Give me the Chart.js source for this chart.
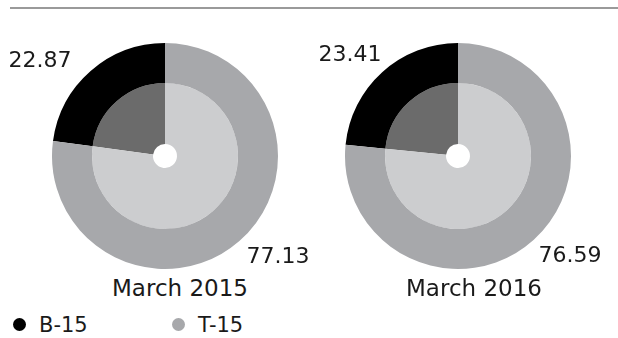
<!DOCTYPE html>
<html>
<head>
<meta charset="utf-8">
<script src="https://cdn.jsdelivr.net/npm/chart.js@4"></script>
<style>
  html, body { margin: 0; padding: 0; background: #fff; }
  body { width: 618px; height: 338px; position: relative; overflow: hidden;
         font-family: "DejaVu Sans", sans-serif; color: #1a1a1a; }
  .rule { position: absolute; left: 10px; right: 0; top: 7px; height: 2px; background: #9a9a9a; }
  .box { position: absolute; top: 30px; height: 245px; }
  .period { position: absolute; top: 275px; font-size: 23px; white-space: nowrap;
            transform: translateX(-50%); line-height: 27px; }
  .legend { position: absolute; top: 313px; left: 0; font-size: 21px; line-height: 24px; }
  .legend span.item { position: absolute; white-space: nowrap; }
  .legend i { display: inline-block; width: 13px; height: 13px; border-radius: 50%;
              vertical-align: 1px; margin-right: 13px; }
</style>
</head>
<body>
<div class="rule"></div>
<div class="box" style="left:0;width:310px"><canvas id="donut2015"></canvas></div>
<div class="box" style="left:309px;width:309px"><canvas id="donut2016"></canvas></div>
<div class="period" id="title2015" style="left:180px"></div>
<div class="period" id="title2016" style="left:474px"></div>
<div class="legend" id="legend"></div>

<script>
// Share of B-15 vs T-15 (percent)
const segments = ['B-15', 'T-15'];
const periods = ['March 2015', 'March 2016'];
const values2015 = [22.87, 77.13];
const values2016 = [23.41, 76.59];

const OUTER_COLORS = ['#000000', '#a7a8ab'];
const INNER_COLORS = ['#6b6b6b', '#cccdcf'];

// Writes each value next to its ring segment; offsets are relative to the centre
const valueLabels = {
    id: 'valueLabels',
    afterDraw(chart, args, opts) {
        const ctx = chart.ctx;
        const meta = chart.getDatasetMeta(0);
        const values = chart.data.datasets[0].data;
        ctx.save();
        ctx.font = '22px "DejaVu Sans", sans-serif';
        ctx.fillStyle = '#1a1a1a';
        ctx.textAlign = 'center';
        ctx.textBaseline = 'alphabetic';
        meta.data.forEach((arc, i) => {
            const off = opts.offsets[i];
            ctx.fillText(values[i].toFixed(2), arc.x + off[0], arc.y + off[1]);
        });
        ctx.restore();
    }
};

function createRingChart(elementId, values, padding, offsets) {
    const ctx = document.getElementById(elementId).getContext('2d');
    const total = values.reduce((a, b) => a + b, 0);

    return new Chart(ctx, {
        type: 'doughnut',
        data: {
            labels: segments,
            datasets: [
                { data: values, backgroundColor: OUTER_COLORS, borderWidth: 0, weight: 40 },
                { data: values, backgroundColor: INNER_COLORS, borderWidth: 0, weight: 61 }
            ]
        },
        options: {
            responsive: true,
            maintainAspectRatio: false,
            animation: false,
            // B-15 ends at twelve o'clock, sitting on the upper left
            rotation: -values[0] / total * 360,
            cutout: 12,
            layout: { padding: padding },
            plugins: {
                legend: { display: false },
                tooltip: { enabled: false },
                valueLabels: { offsets: offsets }
            }
        },
        plugins: [valueLabels]
    });
}

createRingChart('donut2015', values2015,
    { top: 13, bottom: 6, left: 20, right: 0 },
    [[-125, -89], [113, 107]]);
createRingChart('donut2016', values2016,
    { top: 13, bottom: 6, left: 0, right: 11 },
    [[-108, -95], [112, 106]]);

document.getElementById('title2015').textContent = periods[0];
document.getElementById('title2016').textContent = periods[1];

// Legend
const legend = document.getElementById('legend');
const legendX = [13, 172];
segments.forEach((name, i) => {
    const item = document.createElement('span');
    item.className = 'item';
    item.style.left = legendX[i] + 'px';
    item.innerHTML = '<i style="background:' + OUTER_COLORS[i] + '"></i>' + name;
    legend.appendChild(item);
});
</script>
</body>
</html>
